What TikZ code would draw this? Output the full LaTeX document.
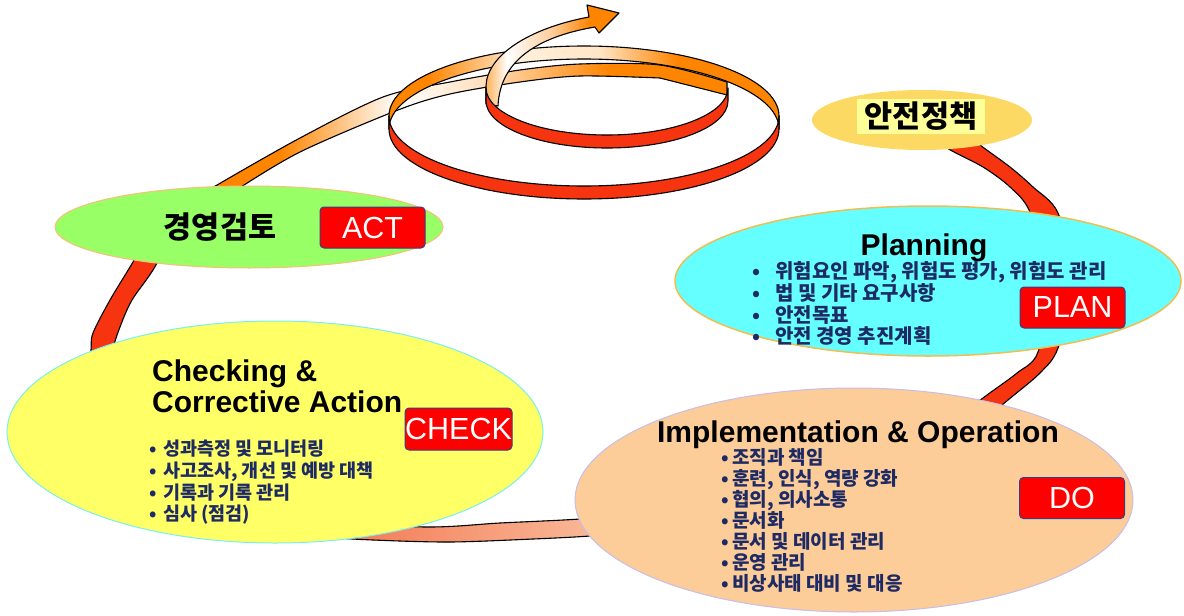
\documentclass[tikz,border=0pt]{standalone}
\usepackage{fontspec}
\setmainfont{Liberation Sans}
\newfontfamily\kr{Noto Sans CJK KR}
\usetikzlibrary{shapes.geometric}

\definecolor{ringred}{RGB}{246,52,16}
\definecolor{navy}{RGB}{30,42,100}
\definecolor{tagline}{RGB}{60,60,130}
\definecolor{hilite}{RGB}{255,255,153}

\pgfdeclarehorizontalshading{upband}{100bp}{rgb(0bp)=(1,0.52,0); rgb(33bp)=(1,0.52,0); rgb(44bp)=(1,1,1); rgb(52bp)=(1,0.88,0.75); rgb(64bp)=(1,0.52,0); rgb(100bp)=(1,0.52,0)}
\pgfdeclarehorizontalshading{backband}{100bp}{rgb(0bp)=(1,0.52,0); rgb(30bp)=(1,0.52,0); rgb(42bp)=(1,0.94,0.86); rgb(52bp)=(1,0.9,0.78); rgb(62bp)=(1,0.52,0); rgb(100bp)=(1,0.52,0)}
\pgfdeclarehorizontalshading{arrowband}{100bp}{rgb(0bp)=(1,0.6,0.2); rgb(25bp)=(1,0.7,0.35); rgb(33bp)=(1,1,1); rgb(50bp)=(1,0.8,0.6); rgb(64bp)=(1,0.52,0); rgb(100bp)=(1,0.52,0)}

\newcommand{\bul}[1][18pt]{\makebox[#1][l]{•}}

\begin{document}
\begin{tikzpicture}[x=1pt, y=-1pt,
    bubble/.style={ellipse, inner sep=0pt, line width=1pt},
    tag/.style={draw=tagline, fill=red, rounded corners=4pt, line width=1pt, text=white,
      font=\fontsize{30.5}{32}\selectfont, minimum width=105pt, minimum height=41pt, inner sep=0pt},
    head/.style={font=\bfseries\fontsize{30}{31}\selectfont, inner sep=0pt},
    krhead/.style={font=\kr\bfseries\fontsize{30.5}{32}\selectfont, inner sep=0pt},
    pts/.style={font=\kr\bfseries\fontsize{20}{21.3}\selectfont, text=navy, align=left, inner sep=0pt, anchor=north west},
    band/.style={draw=black, line width=1.1pt, line join=round}
  ]

  \fill[white] (0,0) rectangle (1184,616);
  \useasboundingbox (0,0) rectangle (1184,616);

  % Big loop
  \filldraw[band, fill=ringred] plot[smooth] coordinates {(955,125) (980,145) (1010,167) (1033,187) (1058,213) (1074,280) (1058,348) (1040,373) (1008,400) (960,440)}
    -- plot[smooth] coordinates {(940,430) (987,395) (1017,373) (1038,352) (1050,280) (1030,212) (1010,187) (983,167) (947,148) (930,132)} -- cycle;
  \filldraw[band, left color={rgb,255:red,243;green,112;blue,72}, right color={rgb,255:red,250;green,200;blue,170}]
    plot[smooth] coordinates {(300,522) (427,527) (500,523) (580,519) (660,512)}
    -- plot[smooth] coordinates {(660,530) (590,536) (533,539) (450,542) (373,540) (300,536)} -- cycle;
  \filldraw[band, fill=ringred] plot[smooth] coordinates {(178,208) (157,263) (132,300) (120,327) (113,350) (112,380) (118,410)}
    -- plot[smooth] coordinates {(95,420) (88,380) (91,350) (93,333) (110,300) (133,262) (160,215)} -- cycle;

  % Spiral
  \filldraw[band, shading=upband] plot[smooth] coordinates {(195,200) (212,188) (300,138) (383,97) (450,82) (520,70) (580,64) (660,65) (727,82)}
    -- (727,95) -- plot[smooth] coordinates {(660,78) (580,76) (520,82) (450,94) (398,110) (300,152) (233,192) (215,205)} -- cycle;
  \filldraw[band, shading=backband] (389,116) arc[start angle=180, end angle=0, x radius=195pt, y radius=70pt]
    -- (779,129) arc[start angle=0, end angle=180, x radius=195pt, y radius=70pt] -- cycle;
  \filldraw[band, shading=arrowband] (486,104) -- (486,86) .. controls (487,55) and (530,28) .. (589,17)
    -- (587,5) -- (619,13) -- (599,33) -- (595,27) .. controls (542,36) and (500,58) .. (498,106) -- cycle;
  \filldraw[band, fill=ringred] (486,88) arc[start angle=180, end angle=360, x radius=121pt, y radius=47pt]
    -- (728,101) arc[start angle=360, end angle=180, x radius=121pt, y radius=47pt] -- cycle;
  \filldraw[band, fill=ringred] (389,116) arc[start angle=180, end angle=360, x radius=195pt, y radius=70pt]
    -- (779,129) arc[start angle=360, end angle=180, x radius=195pt, y radius=70pt] -- cycle;

  % Ellipses
  \node[bubble, fill={rgb,255:red,153;green,255;blue,102}, draw={rgb,255:red,250;green,190;blue,120}, minimum width=388pt, minimum height=82pt] (review) at (249,227) {};
  \node[bubble, fill={rgb,255:red,252;green,217;blue,98}, minimum width=220pt, minimum height=60pt] (policy) at (922,120) {};
  \node[bubble, fill={rgb,255:red,102;green,255;blue,255}, draw={rgb,255:red,240;green,190;blue,80}, line width=1.5pt, minimum width=506pt, minimum height=150pt] (plan) at (928,281) {};
  \node[bubble, fill={rgb,255:red,255;green,255;blue,102}, draw={rgb,255:red,120;green,240;blue,240}, minimum width=536pt, minimum height=222pt] (check) at (275,432) {};
  \node[bubble, fill={rgb,255:red,252;green,204;blue,153}, draw={rgb,255:red,200;green,190;blue,230}, minimum width=558pt, minimum height=224pt] (do) at (854,500) {};

  % Texts
  \node[krhead] (reviewtxt) at (220,227) {경영검토};
  \node[krhead, fill=hilite, minimum width=128pt, minimum height=35pt, font=\kr\bfseries\fontsize{30.5}{32}\selectfont] (policytxt) at (921,116) {안전정책};

  \node[head, anchor=base] (plantitle) at (924,255) {Planning};
  \node[pts] (planpts) at (752,261) {\bul[23pt]위험요인 파악, 위험도 평가, 위험도 관리\\
    \bul[23pt]법 및 기타 요구사항\\ \bul[23pt]안전목표\\ \bul[23pt]안전 경영 추진계획};

  \node[head, anchor=north west, align=left, font=\bfseries\fontsize{30}{31}\selectfont] (checktitle) at (152,360) {Checking \&\\Corrective Action};
  \node[pts, font=\kr\bfseries\fontsize{18.5}{21.6}\selectfont] (checkpts) at (149,440) {\bul[14pt]성과측정 및 모니터링\\
    \bul[14pt]사고조사, 개선 및 예방 대책\\ \bul[14pt]기록과 기록 관리\\ \bul[14pt]심사 (점검)};

  \node[head, anchor=base] (dotitle) at (858,442) {Implementation \& Operation};
  \node[pts, font=\kr\bfseries\fontsize{19}{21}\selectfont] (dopts) at (721,448) {\bul[11pt]조직과 책임\\
    \bul[11pt]훈련, 인식, 역량 강화\\ \bul[11pt]협의, 의사소통\\ \bul[11pt]문서화\\
    \bul[11pt]문서 및 데이터 관리\\ \bul[11pt]운영 관리\\ \bul[11pt]비상사태 대비 및 대응};

  % Tags
  \node[tag] (act) at (372.5,227.5) {ACT};
  \node[tag] (plantag) at (1072.5,307.5) {PLAN};
  \node[tag, minimum width=107pt, minimum height=42pt] (checktag) at (458.5,429) {CHECK};
  \node[tag] (dotag) at (1072,498) {DO};

\end{tikzpicture}
\end{document}
